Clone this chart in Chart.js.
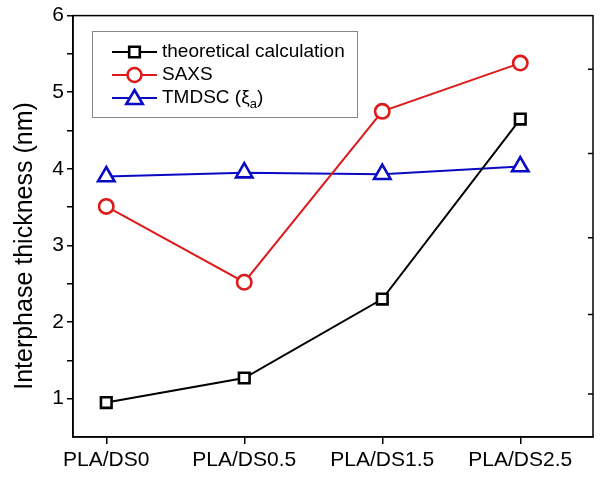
<!DOCTYPE html>
<html>
<head>
<meta charset="utf-8">
<script src="https://cdn.jsdelivr.net/npm/chart.js@4"></script>
<style>
  html, body { margin: 0; padding: 0; background: #fff; }
  #wrap { width: 612px; height: 477px; }
</style>
</head>
<body>
<div id="wrap"><canvas id="chart" width="612" height="477"></canvas></div>
<script>
const samples = ['PLA/DS0', 'PLA/DS0.5', 'PLA/DS1.5', 'PLA/DS2.5'];
const theoretical = [0.95, 1.27, 2.30, 4.65];
const saxs = [3.51, 2.52, 4.75, 5.38];
const tmdsc = [3.90, 3.95, 3.93, 4.03];
const yTicks = [1, 2, 3, 4, 5, 6];
const rightTicks = [1.06, 2.1, 3.1, 4.2, 5.3];
const yTitle = 'Interphase thickness (nm)';

const FONT = 'Liberation Sans, Arial, sans-serif';

function pts(values) {
  return values.map((v, i) => ({ x: i, y: v }));
}

// frame, right-side ticks, axis title and the legend box
const decorations = {
  id: 'decorations',
  afterDraw(chart) {
    const { ctx, chartArea: a, scales } = chart;
    ctx.save();
    ctx.strokeStyle = '#000';
    ctx.lineWidth = 1.5;
    ctx.strokeRect(a.left, a.top, a.right - a.left, a.bottom - a.top);
    ctx.beginPath();
    rightTicks.forEach(v => {
      const y = scales.y.getPixelForValue(v);
      ctx.moveTo(a.right, y);
      ctx.lineTo(a.right - 5, y);
    });
    ctx.stroke();

    // y title, sits a little below the middle of the axis
    ctx.save();
    ctx.translate(25, 246);
    ctx.rotate(-Math.PI / 2);
    ctx.fillStyle = '#000';
    ctx.font = '25px ' + FONT;
    ctx.textAlign = 'center';
    ctx.textBaseline = 'middle';
    ctx.fillText(yTitle, 0, 0);
    ctx.restore();

    // legend
    const bx = 92, by = 31, bw = 265, bh = 86;
    ctx.lineWidth = 1;
    ctx.strokeStyle = '#888';
    ctx.strokeRect(bx + 0.5, by + 0.5, bw, bh);
    const labels = ['theoretical calculation', 'SAXS', 'TMDSC ('];
    chart.data.datasets.forEach((ds, i) => {
      const y = 52 + i * 23;
      const x0 = 112, x1 = 157, xm = (x0 + x1) / 2;
      ctx.strokeStyle = ds.borderColor;
      ctx.lineWidth = 2;
      ctx.beginPath();
      ctx.moveTo(x0, y);
      ctx.lineTo(x1, y);
      ctx.stroke();
      ctx.fillStyle = '#fff';
      ctx.lineWidth = 2.6;
      ctx.beginPath();
      if (ds.pointStyle === 'rect') {
        ctx.rect(xm - 5.3, y - 5.3, 10.6, 10.6);
      } else if (ds.pointStyle === 'circle') {
        ctx.arc(xm, y, 7, 0, Math.PI * 2);
      } else {
        ctx.moveTo(xm, y - 8);
        ctx.lineTo(xm + 8.2, y + 6);
        ctx.lineTo(xm - 8.2, y + 6);
        ctx.closePath();
      }
      ctx.fill();
      ctx.stroke();

      ctx.fillStyle = '#000';
      ctx.font = '19px ' + FONT;
      ctx.textBaseline = 'middle';
      ctx.textAlign = 'left';
      ctx.fillText(labels[i], 162, y);
      if (i === 2) {
        let x = 162 + ctx.measureText(labels[i]).width;
        ctx.fillText('\u03BE', x, y);
        x += ctx.measureText('\u03BE').width;
        ctx.font = '13px ' + FONT;
        ctx.fillText('a', x, y + 6);
        x += ctx.measureText('a').width;
        ctx.font = '19px ' + FONT;
        ctx.fillText(')', x, y);
      }
    });
    ctx.restore();
  }
};

const common = {
  borderWidth: 2,
  pointBorderWidth: 2.6,
  pointBackgroundColor: '#fff',
  tension: 0
};

new Chart(document.getElementById('chart'), {
  type: 'line',
  data: {
    datasets: [
      { ...common, label: 'theoretical calculation', data: pts(theoretical),
        borderColor: '#000', pointBorderColor: '#000', pointStyle: 'rect',
        pointRadius: 7.5, pointHoverRadius: 7.5 },
      { ...common, label: 'SAXS', data: pts(saxs),
        borderColor: '#de1a1a', pointBorderColor: '#de1a1a', pointStyle: 'circle',
        pointRadius: 7.2, pointHoverRadius: 7.2 },
      { ...common, label: 'TMDSC', data: pts(tmdsc),
        borderColor: '#0a0ac4', pointBorderColor: '#0a0ac4', pointStyle: 'triangle',
        pointRadius: 9.5, pointHoverRadius: 9.5 }
    ]
  },
  options: {
    responsive: false,
    animation: false,
    layout: { padding: { top: 15, right: 19, left: 0, bottom: 0 } },
    plugins: { legend: { display: false }, tooltip: { enabled: false } },
    scales: {
      x: {
        type: 'linear',
        min: -0.241,
        max: 3.527,
        afterBuildTicks: s => { s.ticks = samples.map((_, i) => ({ value: i })); },
        afterFit: s => { s.height = 40; },
        grid: { drawOnChartArea: false, tickLength: 7, color: '#000', lineWidth: 1.5 },
        border: { color: '#000', width: 1.5 },
        ticks: {
          color: '#000',
          font: { family: FONT, size: 21 },
          padding: 4,
          maxRotation: 0,
          callback: v => samples[v]
        }
      },
      y: {
        min: 0.5,
        max: 6,
        afterBuildTicks: s => {
          const t = [];
          for (let v = 1; v <= 6; v += 0.5) t.push({ value: v });
          s.ticks = t;
        },
        afterFit: s => { s.width = 73; },
        grid: { drawOnChartArea: false, tickLength: 6, color: '#000', lineWidth: 1.5 },
        border: { color: '#000', width: 1.5 },
        ticks: {
          color: '#000',
          font: { family: FONT, size: 21 },
          padding: 3,
          callback: v => (yTicks.includes(v) ? String(v) : '')
        }
      }
    }
  },
  plugins: [decorations]
});
</script>
</body>
</html>
